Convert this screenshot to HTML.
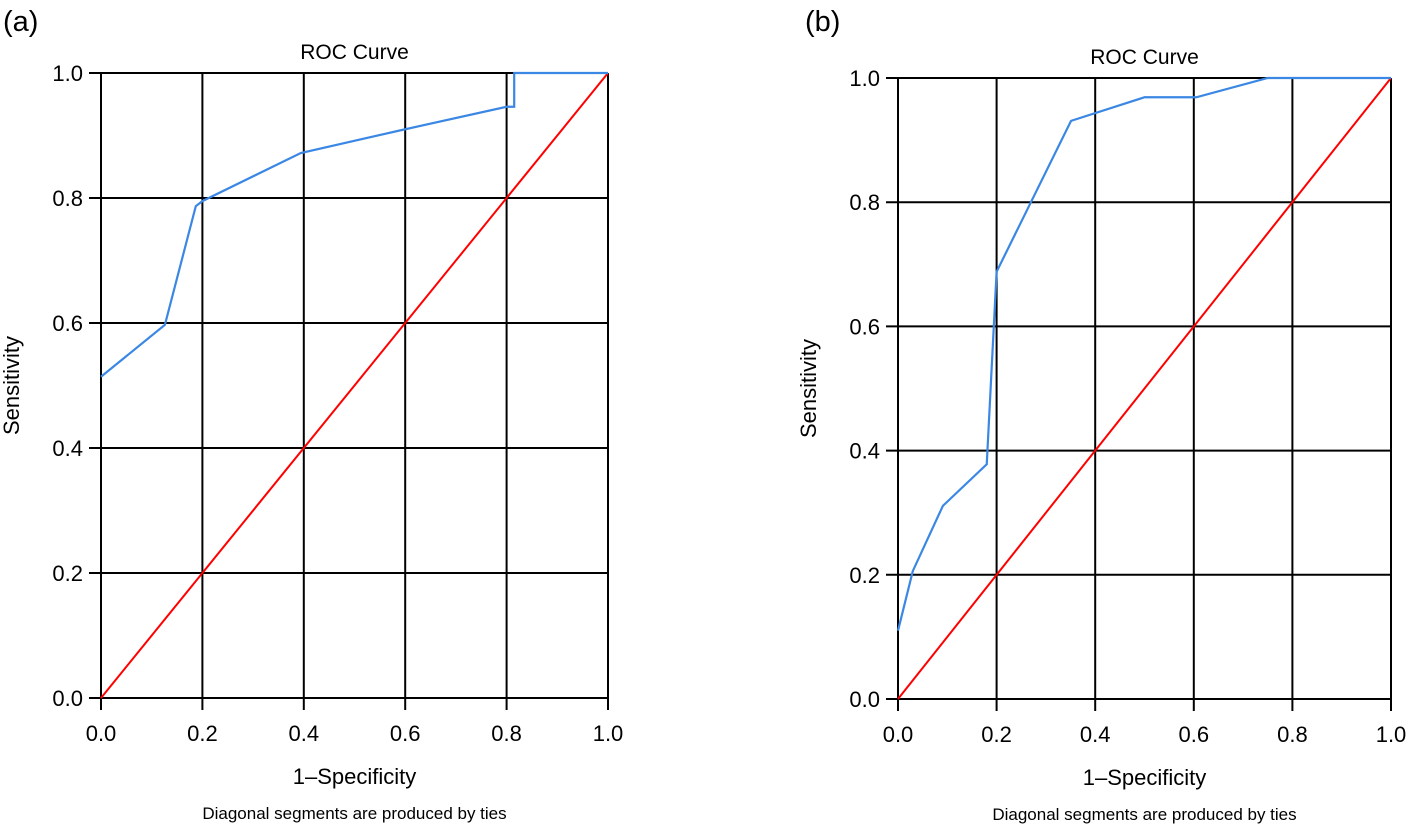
<!DOCTYPE html>
<html><head><meta charset="utf-8"><style>
body{margin:0;background:#fff;}
svg{display:block;font-family:"Liberation Sans","DejaVu Sans",sans-serif;}
</style></head><body>
<svg id="svg" width="1406" height="824" viewBox="0 0 1406 824"></svg>
<script>
const ticks=[0,0.2,0.4,0.6,0.8,1.0];
const tickLabels=["0.0","0.2","0.4","0.6","0.8","1.0"];
const rocAX=[0,0.126,0.187,0.2,0.394,0.6,0.80,0.815,0.815,1];
const rocAY=[0.514,0.597,0.787,0.795,0.872,0.91,0.946,0.946,1,1];
const rocBX=[0,0.03,0.091,0.18,0.2,0.351,0.5,0.605,0.75,1];
const rocBY=[0.11,0.206,0.311,0.378,0.688,0.931,0.969,0.969,1,1];
const NS="http://www.w3.org/2000/svg";
const svg=document.getElementById('svg');
function mk(t,a,p){const e=document.createElementNS(NS,t);for(const k in a)e.setAttribute(k,a[k]);(p||svg).appendChild(e);return e;}
function panel(id,label,x0,x1,y0,y1,xs,ys){
  const g=mk('g',{});
  
  
  const sx=v=>x0+v*(x1-x0), sy=v=>y0-v*(y0-y1);
  ticks.forEach((t,i)=>{
    const v=mk('line',{x1:sx(t),x2:sx(t),y1:y1,y2:y0+12,stroke:'#000','stroke-width':2},g);
    
    
    const h=mk('line',{x1:x0-12,x2:x1,y1:sy(t),y2:sy(t),stroke:'#000','stroke-width':2},g);
    
    
    const xl=mk('text',{x:sx(t),y:y0+43,'font-size':22,'text-anchor':'middle'},g);xl.textContent=tickLabels[i];
    
    
    const yl=mk('text',{x:x0-18,y:sy(t)+8,'font-size':22,'text-anchor':'end'},g);yl.textContent=tickLabels[i];
    
    
  });
  const ref=mk('line',{x1:sx(0),y1:sy(0),x2:sx(1),y2:sy(1),stroke:'#f00','stroke-width':2},g);
  
  
  const pts=xs.map((x,i)=>sx(x)+','+sy(ys[i])).join(' ');
  const c=mk('polyline',{points:pts,fill:'none',stroke:'#3b87e4','stroke-width':2.2},g);
  
  
  const mid=(x0+x1)/2;
  const ti=mk('text',{x:mid,y:y1-14,'font-size':21,'text-anchor':'middle'},g);ti.textContent='ROC Curve';
  
  
  const xt=mk('text',{x:mid,y:y0+86,'font-size':22,'text-anchor':'middle'},g);xt.textContent='1–Specificity';
  
  
  const ft=mk('text',{x:mid,y:y0+121,'font-size':17,'text-anchor':'middle'},g);ft.textContent='Diagonal segments are produced by ties';
  
  
  const ytx=x0-82, yty=(y0+y1)/2;
  const yt=mk('text',{x:ytx,y:yty,'font-size':22,'text-anchor':'middle',transform:'rotate(-90 '+ytx+' '+yty+')'},g);yt.textContent='Sensitivity';
  
  
  const pl=mk('text',{x:label[1],y:31,'font-size':29},g);pl.textContent=label[0];
  
  
}
panel('a',['(a)',3],101,608,698,73,rocAX,rocAY);
panel('b',['(b)',805],898,1391,699,78,rocBX,rocBY);
</script>
</body></html>
